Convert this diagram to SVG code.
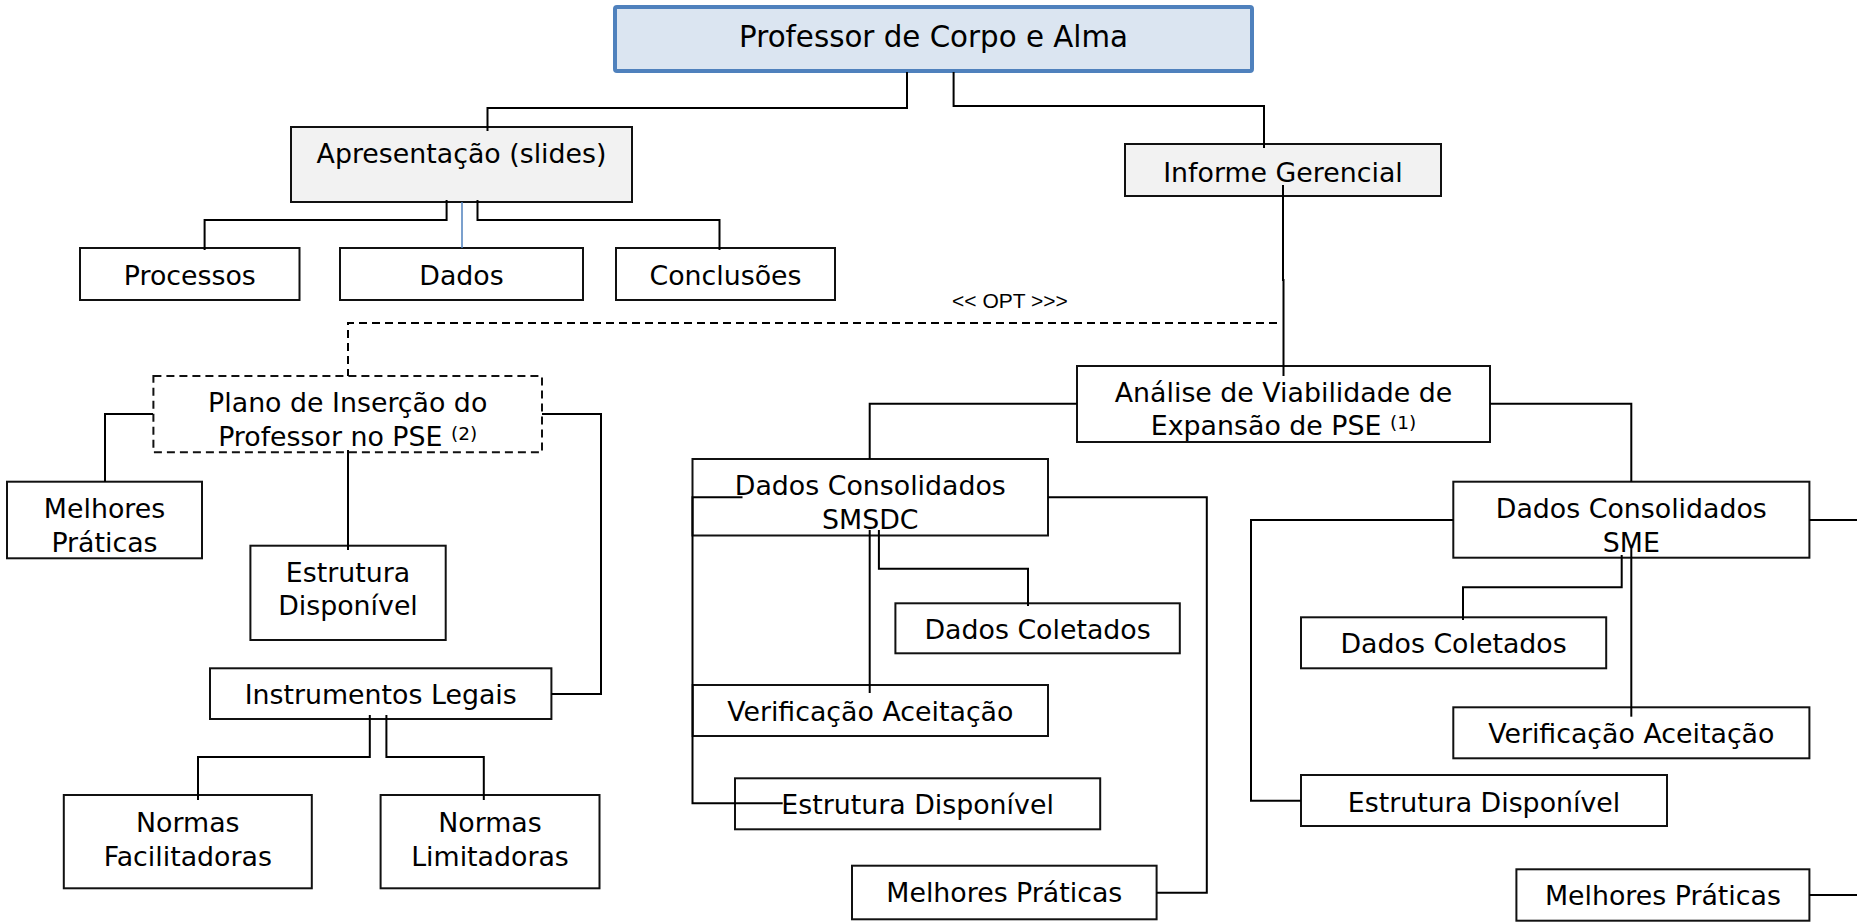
<svg xmlns="http://www.w3.org/2000/svg" width="1857" height="922" viewBox="0 0 1857 922">
<style>
.box{fill:#ffffff;stroke:#111111;stroke-width:2}
.grey{fill:#f2f2f2}
.top{fill:#dbe5f1;stroke:#4f81bd;stroke-width:4}
.dashbox{fill:#ffffff;stroke:#111111;stroke-width:2;stroke-dasharray:8 5}
.t{font-family:"DejaVu Sans",Verdana,sans-serif;font-size:26.8px;fill:#000000;text-anchor:middle}
.tt{font-family:"DejaVu Sans",Verdana,sans-serif;font-size:29.3px;fill:#000000;text-anchor:middle}
.sup{font-size:18.5px}
.opt{font-family:"Liberation Sans",Arial,sans-serif;font-size:21px;fill:#000000;text-anchor:middle}
.c{fill:none;stroke:#000000;stroke-width:2}
.d{fill:none;stroke:#000000;stroke-width:2;stroke-dasharray:8 5}
.b{fill:none;stroke:#4f81bd;stroke-width:1.5}
</style>
<rect width="1857" height="922" fill="#ffffff"/>
<g id="node-top"><rect class="top" x="615" y="7" width="637" height="64" rx="2"/><text class="tt" x="933.5" y="47">Professor de Corpo e Alma</text></g>
<g id="node-apresentacao"><rect class="box grey" x="291" y="127" width="341" height="75"/><text class="t" x="461.5" y="163">Apresentação (slides)</text></g>
<g id="node-processos"><rect class="box" x="80" y="248" width="219.5" height="52"/><text class="t" x="189.8" y="285">Processos</text></g>
<g id="node-dados"><rect class="box" x="340" y="248" width="243" height="52"/><text class="t" x="461.5" y="285">Dados</text></g>
<g id="node-conclusoes"><rect class="box" x="616" y="248" width="219" height="52"/><text class="t" x="725.5" y="285">Conclusões</text></g>
<g id="node-informe"><rect class="box grey" x="1125" y="144" width="316" height="52"/><text class="t" x="1283" y="182">Informe Gerencial</text></g>
<g id="node-plano"><rect class="dashbox" x="153.4" y="376" width="388.6" height="76.3"/><text class="t" x="347.7" y="411.7">Plano de Inserção do</text><text class="t" x="347.7" y="445.7">Professor no PSE <tspan class="sup" dy="-6">(2)</tspan></text></g>
<g id="node-melhores-l"><rect class="box" x="7" y="481.7" width="195" height="76.6"/><text class="t" x="104.5" y="518">Melhores</text><text class="t" x="104.5" y="551.7">Práticas</text></g>
<g id="node-estrutura-l"><rect class="box" x="250.4" y="545.7" width="195.3" height="94.3"/><text class="t" x="348" y="581.7">Estrutura</text><text class="t" x="348" y="615">Disponível</text></g>
<g id="node-instrumentos"><rect class="box" x="210" y="668.3" width="341.4" height="50.7"/><text class="t" x="380.7" y="704">Instrumentos Legais</text></g>
<g id="node-normas-f"><rect class="box" x="63.8" y="795" width="248" height="93.3"/><text class="t" x="187.8" y="831.7">Normas</text><text class="t" x="187.8" y="865.7">Facilitadoras</text></g>
<g id="node-normas-l"><rect class="box" x="380.6" y="795" width="218.9" height="93.3"/><text class="t" x="490" y="831.7">Normas</text><text class="t" x="490" y="865.7">Limitadoras</text></g>
<g id="node-analise"><rect class="box" x="1077" y="366" width="413" height="76"/><text class="t" x="1283.5" y="401.7">Análise de Viabilidade de</text><text class="t" x="1283.5" y="435">Expansão de PSE <tspan class="sup" dy="-6">(1)</tspan></text></g>
<g id="node-smsdc"><rect class="box" x="692.5" y="459" width="355.5" height="76.5"/><text class="t" x="870.3" y="495">Dados Consolidados</text><text class="t" x="870.3" y="529.3">SMSDC</text></g>
<g id="node-coletados-1"><rect class="box" x="895.4" y="603.3" width="284.4" height="50"/><text class="t" x="1037.6" y="639.3">Dados Coletados</text></g>
<g id="node-verificacao-1"><rect class="box" x="692.7" y="685" width="355.3" height="51"/><text class="t" x="870.3" y="720.7">Verificação Aceitação</text></g>
<g id="node-estrutura-1"><rect class="box" x="735" y="778.3" width="365.2" height="51"/><text class="t" x="917.6" y="814">Estrutura Disponível</text></g>
<g id="node-melhores-1"><rect class="box" x="852" y="865.7" width="304.6" height="53.6"/><text class="t" x="1004.3" y="901.7">Melhores Práticas</text></g>
<g id="node-sme"><rect class="box" x="1453.3" y="481.7" width="356.1" height="76"/><text class="t" x="1631.3" y="518.3">Dados Consolidados</text><text class="t" x="1631.3" y="551.7">SME</text></g>
<g id="node-coletados-2"><rect class="box" x="1301" y="617.3" width="305.2" height="51"/><text class="t" x="1453.6" y="653.3">Dados Coletados</text></g>
<g id="node-verificacao-2"><rect class="box" x="1453.3" y="707.3" width="356.1" height="51"/><text class="t" x="1631.3" y="743.3">Verificação Aceitação</text></g>
<g id="node-estrutura-2"><rect class="box" x="1301" y="775" width="366" height="51"/><text class="t" x="1484" y="811.7">Estrutura Disponível</text></g>
<g id="node-melhores-2"><rect class="box" x="1516.4" y="869.3" width="293" height="51.4"/><text class="t" x="1662.9" y="905">Melhores Práticas</text></g>
<g id="connectors">
<polyline class="c" points="907,72 907,108 487.5,108 487.5,131"/>
<polyline class="c" points="953.6,72 953.6,106 1264,106 1264,148"/>
<polyline class="c" points="446.6,200 446.6,220 204.6,220 204.6,250"/>
<line class="b" x1="462" y1="202" x2="462" y2="248"/>
<polyline class="c" points="477.5,200 477.5,220 719.5,220 719.5,250"/>
<polyline class="c" points="1283,185 1283,280 1283.5,280 1283.5,376"/>
<polyline class="d" points="1277,323 348,323 348,376"/>
<text class="opt" x="1010" y="307.7">&lt;&lt; OPT &gt;&gt;&gt;</text>
<polyline class="c" points="153,414 105,414 105,482"/>
<polyline class="c" points="348,450 348,550"/>
<polyline class="c" points="542,414 601,414 601,694 551.4,694"/>
<polyline class="c" points="369.8,715 369.8,757 198,757 198,800"/>
<polyline class="c" points="386.4,715 386.4,757 483.8,757 483.8,800"/>
<polyline class="c" points="1077,403.7 869.7,403.7 869.7,459"/>
<polyline class="c" points="1490,403.7 1631.3,403.7 1631.3,481.7"/>
<polyline class="c" points="878.9,530 878.9,568.7 1028,568.7 1028,606"/>
<polyline class="c" points="869.7,530 869.7,693"/>
<polyline class="c" points="742.5,497.3 692.5,497.3 692.5,803.3 782.7,803.3"/>
<polyline class="c" points="1048,497.3 1206.8,497.3 1206.8,892.7 1156.6,892.7"/>
<polyline class="c" points="1621.7,555 1621.7,587.3 1463,587.3 1463,620"/>
<polyline class="c" points="1631.3,548 1631.3,716.7"/>
<polyline class="c" points="1453.3,520 1251,520 1251,800.7 1301,800.7"/>
<line class="c" x1="1809.4" y1="520" x2="1857" y2="520"/>
<line class="c" x1="1809.4" y1="895" x2="1857" y2="895"/>
</g>
</svg>
